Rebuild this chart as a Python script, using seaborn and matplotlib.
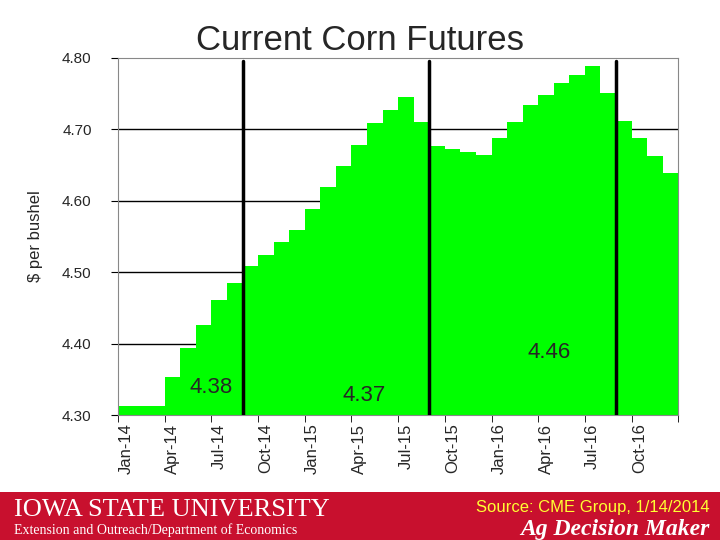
import matplotlib
matplotlib.use("Agg")
import matplotlib.pyplot as plt
import seaborn as sns
import pandas as pd
import numpy as np

months = [f"{m}-{y}" for y in ["14", "15", "16"] for m in
          ["Jan","Feb","Mar","Apr","May","Jun","Jul","Aug","Sep","Oct","Nov","Dec"]]
prices = [4.313, 4.313, 4.313, 4.353, 4.394, 4.426, 4.461, 4.485, 4.509, 4.524, 4.542, 4.559,
          4.589, 4.619, 4.649, 4.678, 4.709, 4.727, 4.745, 4.710, 4.677, 4.673, 4.668, 4.664,
          4.688, 4.710, 4.734, 4.748, 4.765, 4.776, 4.789, 4.751, 4.712, 4.688, 4.663, 4.639]
tick_labels = ["Jan-14","Apr-14","Jul-14","Oct-14","Jan-15","Apr-15","Jul-15","Oct-15",
               "Jan-16","Apr-16","Jul-16","Oct-16"]
averages = ["4.38", "4.37", "4.46"]

df = pd.DataFrame({"month": months, "price": prices})

sns.set_style("white")
plt.rcParams['font.family'] = ['Liberation Sans', 'DejaVu Sans']
fig = plt.figure(figsize=(7.2, 5.4), dpi=100)
ax = fig.add_axes([0.164, 0.231, 0.778, 0.662])
for y in [4.4, 4.5, 4.6, 4.7]:
    ax.axhline(y, color="black", lw=1, zorder=0)
sns.barplot(data=df, x="month", y="price", color="#00FF00", saturation=1, width=1.0,
            ax=ax, zorder=2, linewidth=0)
ax.set_ylim(4.30, 4.80)
ax.set_xlim(-0.5, 35.5)
ax.set_yticks([4.3, 4.4, 4.5, 4.6, 4.7, 4.8])
ax.set_yticklabels([f"{v:.2f}" for v in [4.3, 4.4, 4.5, 4.6, 4.7, 4.8]], fontsize=11)
ax.set_xticks(np.arange(0, 36, 3))
ax.set_xticklabels(tick_labels, rotation=90, fontsize=12)
ax.set_xticks(np.arange(-0.5, 36, 3), minor=True)
ax.tick_params(axis="x", which="major", length=0, pad=6)
ax.tick_params(axis="x", which="minor", length=5, color="black", bottom=True)
ax.tick_params(axis="y", length=5, left=True, color="black", pad=14)
ax.set_xlabel("")
ax.set_ylabel("$ per bushel", fontsize=12, labelpad=14)
for s in ax.spines.values():
    s.set_color("#888888")
for xv in [7.5, 19.5, 31.5]:
    ax.axvline(xv, ymax=0.99, color="black", lw=2.5, zorder=3)
ax.text(5.5, 4.339, averages[0], fontsize=16, ha="center", va="center", zorder=4)
ax.text(15.3, 4.328, averages[1], fontsize=16, ha="center", va="center", zorder=4)
ax.text(27.2, 4.388, averages[2], fontsize=16, ha="center", va="center", zorder=4)
fig.text(0.5, 0.925, "Current Corn Futures", fontsize=25, ha="center", va="center")

banner = fig.add_axes([0, 0, 1, 48/540])
banner.set_facecolor("#C8102E")
banner.set_xticks([]); banner.set_yticks([])
for s in banner.spines.values():
    s.set_visible(False)
banner.text(0.02, 0.62, "IOWA STATE UNIVERSITY", color="white", fontsize=19,
            family="Liberation Serif", va="center", transform=banner.transAxes)
banner.text(0.02, 0.2, "Extension and Outreach/Department of Economics", color="white",
            fontsize=10, family="Liberation Serif", va="center", transform=banner.transAxes)
banner.text(0.985, 0.68, "Source: CME Group, 1/14/2014", color="#FFFF33", fontsize=12,
            ha="right", va="center", transform=banner.transAxes)
banner.text(0.985, 0.22, "Ag Decision Maker", color="white", fontsize=17, style="italic",
            weight="bold", family="Liberation Serif", ha="right", va="center",
            transform=banner.transAxes)
fig.savefig("out.png", dpi=100)
